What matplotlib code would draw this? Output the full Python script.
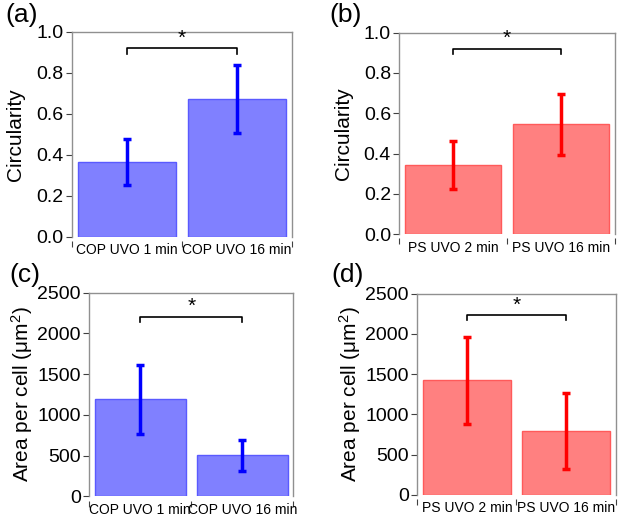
import numpy as np
import matplotlib.pyplot as plt

plt.rcParams['font.family'] = ['Liberation Sans', 'DejaVu Sans']

# panel data
labels_cop = ["COP UVO 1 min", "COP UVO 16 min"]
labels_ps = ["PS UVO 2 min", "PS UVO 16 min"]

circ_cop = [0.366, 0.673]
circ_cop_err = [0.112, 0.166]
circ_ps = [0.345, 0.545]
circ_ps_err = [0.119, 0.152]

area_cop = [1190, 504]
area_cop_err = [425, 187]
area_ps = [1421, 796]
area_ps_err = [535, 470]

blue_fill, blue_edge, blue_err = '#8080ff', '#5a5aff', '#0000ff'
red_fill, red_edge, red_err = '#ff8080', '#ff5a5a', '#ff0000'

fig = plt.figure(figsize=(6.2, 5.16), dpi=100)

area_lab = r"Area per cell ($\mathregular{\mu m^2}$)"
panels = [
    ([0.116, 0.541, 0.355, 0.397], labels_cop, circ_cop, circ_cop_err, 'blue', "Circularity", 1.0, 0.2, 0.92, '%.1f', '(a)', (0.008, 0.97), 9.8, 8),
    ([0.644, 0.546, 0.348, 0.391], labels_ps, circ_ps, circ_ps_err, 'red', "Circularity", 1.0, 0.2, 0.92, '%.1f', '(b)', (0.532, 0.97), 10.5, 8),
    ([0.144, 0.038, 0.329, 0.395], labels_cop, area_cop, area_cop_err, 'blue', area_lab, 2500, 500, 2200, '%d', '(c)', (0.015, 0.468), 8.5, 2),
    ([0.673, 0.041, 0.320, 0.390], labels_ps, area_ps, area_ps_err, 'red', area_lab, 2500, 500, 2230, '%d', '(d)', (0.534, 0.468), 9.3, 2),
]

for rect, labels, vals, errs, col, ylab, ymax, ystep, ybr, fmt, tag, tagpos, xfs, lpad in panels:
    ax = fig.add_axes(rect)
    if col == 'blue':
        fc, ec, erc = blue_fill, blue_edge, blue_err
    else:
        fc, ec, erc = red_fill, red_edge, red_err
    x = np.arange(len(vals))
    ax.bar(x, vals, width=0.89, color=fc, edgecolor=ec, linewidth=1)
    ax.errorbar(x, vals, yerr=errs, fmt='none', ecolor=erc, elinewidth=2.5,
                capsize=3, capthick=2.5)

    # significance bracket
    h = ymax * 0.025
    ax.plot([0, 0, 1, 1], [ybr - h, ybr, ybr, ybr - h], color='black', lw=1.2)
    ax.text(0.5, ybr + ymax * 0.005, "*", ha='center', va='bottom', fontsize=15)

    ax.set_xlim(-0.5, 1.5)
    ax.set_ylim(0, ymax)
    yt = np.arange(0, ymax + ystep / 2, ystep)
    ax.set_yticks(yt)
    ax.set_yticklabels([fmt % v for v in yt], fontsize=14)
    ax.set_xticks([-0.5, 0.5, 1.5])
    ax.set_xticklabels([])
    ax.set_xticks([0, 1], minor=True)
    ax.set_xticklabels(labels, minor=True, fontsize=xfs)
    ax.tick_params(axis='x', which='minor', length=0, pad=1.5)
    ax.tick_params(axis='x', which='major', length=4, color='#404040')
    ax.tick_params(axis='y', length=4, color='#404040', pad=2)
    ax.set_ylabel(ylab, fontsize=15, labelpad=lpad)

    for s in ['left', 'top', 'right']:
        ax.spines[s].set_color('#909090')
        ax.spines[s].set_linewidth(1)
    ax.spines['bottom'].set_position(('outward', 3))
    ax.spines['bottom'].set_linewidth(0)

    fig.text(tagpos[0], tagpos[1], tag, fontsize=19, ha='left', va='center')

fig.savefig("out.png", dpi=100)
